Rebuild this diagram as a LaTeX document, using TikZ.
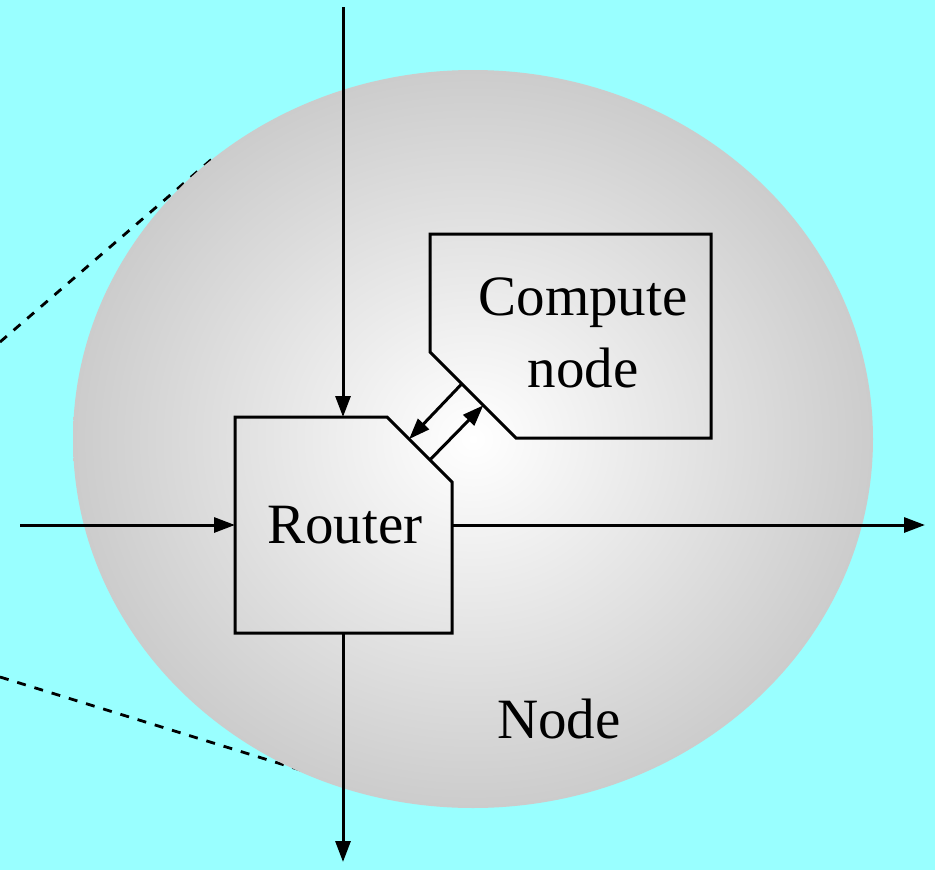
\documentclass[tikz,border=0pt]{standalone}
\usepackage{fontspec}
\setmainfont{Liberation Serif}
\usetikzlibrary{arrows.meta,calc}
\definecolor{skycyan}{HTML}{99FFFF}
\tikzset{
  wire/.style={line width=3pt,-{Triangle[length=21pt,width=15pt]}},
  block/.style={line width=3pt,line join=miter},
  hint/.style={line width=2.8pt,dash pattern=on 9pt off 9pt},
  label/.style={font=\fontsize{57}{72}\selectfont,anchor=base,inner sep=0pt}
}
\begin{document}
\begin{tikzpicture}[x=1pt,y=-1pt]
  % canvas
  \fill[skycyan] (0,0) rectangle (935,870);
  \useasboundingbox (0,0) rectangle (935,870);

  % zoom guide lines, partly hidden by the node disc
  \coordinate (g1a) at (0,342);
  \coordinate (g1b) at (212,159);
  \coordinate (g2a) at (0,677);
  \coordinate (g2b) at (320,776);
  \draw[hint] (g1a) -- (g1b);
  \draw[hint] (g2a) -- (g2b);

  % the node disc
  \shade[inner color=white,outer color=black!20] (473,439) ellipse (400 and 369);

  % router outline
  \coordinate (r1) at (235,417);
  \coordinate (r2) at (387,417);
  \coordinate (r3) at (452,482);
  \coordinate (r4) at (452,633);
  \coordinate (r5) at (235,633);
  \draw[block] (r1) -- (r2) -- (r3) -- (r4) -- (r5) -- cycle;

  % compute node outline
  \coordinate (c1) at (430,234);
  \coordinate (c2) at (711,234);
  \coordinate (c3) at (711,438);
  \coordinate (c4) at (516,438);
  \coordinate (c5) at (430,352);
  \draw[block] (c1) -- (c2) -- (c3) -- (c4) -- (c5) -- cycle;

  % labels
  \node[label] (router) at (345,543) {Router};
  \node[label] (compute) at (583,315) {Compute};
  \node[label] (computeb) at (583,387) {node};
  \node[label] (node) at (559,738) {Node};

  % ports on the router
  \coordinate (rtop) at (343,417);
  \coordinate (rleft) at (235,525);
  \coordinate (rright) at (452,525);
  \coordinate (rbot) at (343,633);
  % link ends
  \coordinate (inN) at (343,7);
  \coordinate (inW) at (20,525);
  \coordinate (outE) at (925,525);
  \coordinate (outS) at (343,862);

  \draw[wire] (inN) -- (rtop);
  \draw[wire] (inW) -- (rleft);
  \draw[wire] (rright) -- (outE);
  \draw[wire] (rbot) -- (outS);

  % router <-> compute node link
  \coordinate (ra) at ($(r2)!0.34!(r3)$);
  \coordinate (rb) at ($(r2)!0.66!(r3)$);
  \coordinate (ca) at ($(c5)!0.37!(c4)$);
  \coordinate (cb) at ($(c5)!0.62!(c4)$);
  \draw[wire] (ca) -- (ra);
  \draw[wire] (rb) -- (cb);
\end{tikzpicture}
\end{document}
